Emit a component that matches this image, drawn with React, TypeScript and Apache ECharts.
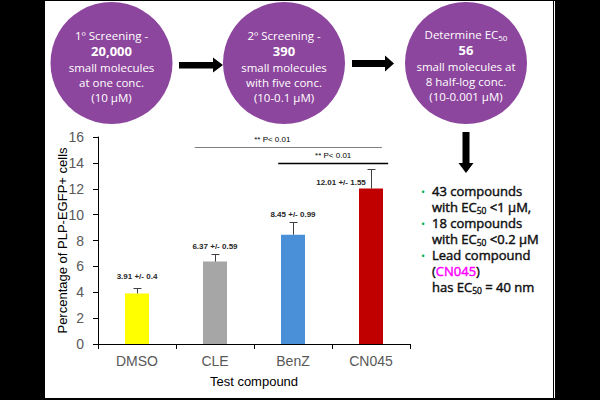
import React, { useEffect, useRef } from 'react';
import * as echarts from 'echarts';

// ---------- data ----------
const categories = ['DMSO', 'CLE', 'BenZ', 'CN045'];
const means = [3.91, 6.37, 8.45, 12.01];
const errors = [0.4, 0.59, 0.99, 1.55];
const barColors = ['#FFFF00', '#A6A6A6', '#4A90D9', '#C00000'];

const yMin = 0;
const yMax = 16;
const yInterval = 2;

const sigFrom = [1, 2];
const sigTo = [3, 3];
const sigLevel = [15.2, 14.0];
const sigLabels = ['** P< 0.01', '** P< 0.01'];

const yAxisTitle = 'Percentage of PLP-EGFP+ cells';
const xAxisTitle = 'Test compound';

const circle1Lines = ['1º Screening -', '{b|20,000}', 'small molecules', 'at one conc.', '(10 µM)'];
const circle2Lines = ['2º Screening -', '{b|390}', 'small molecules', 'with five conc.', '(10-0.1 µM)'];
const circle3Lines = ['Determine EC{s|50}', '{b|56}', 'small molecules at', '8 half-log conc.', '(10-0.001 µM)'];

const summaryLines = [
  { bullet: true, text: '43 compounds' },
  { bullet: false, text: 'with EC{s|50} <1 µM,' },
  { bullet: true, text: '18 compounds' },
  { bullet: false, text: 'with EC{s|50} <0.2 µM' },
  { bullet: true, text: 'Lead compound' },
  { bullet: false, text: '({m|CN045})' },
  { bullet: false, text: 'has EC{s|50} = 40 nm' },
];

// ---------- layout / style (not data) ----------
const labelOffsets = [[0, -12], [0, -7], [0, -7], [-30, 14]];
const sigLayout = [
  { start: -0.26, end: 0.14, textDx: -16, color: '#7F7F7F', width: 1 },
  { start: -0.19, end: 0.22, textDx: 0, color: '#000000', width: 1.3 },
];

const ARIAL = '"Liberation Sans", Arial, sans-serif';
const UI = '"Open Sans", "Noto Sans", sans-serif';
const PURPLE = '#8D469D';

function circleText(cx: number, cy: number, lines: string[]) {
  return {
    type: 'text',
    x: cx,
    y: cy,
    silent: true,
    style: {
      text: lines.join('\n'),
      align: 'center',
      verticalAlign: 'middle',
      fill: '#FFFFFF',
      fontFamily: UI,
      fontSize: 11.5,
      lineHeight: 15,
      rich: {
        b: { fontFamily: UI, fontSize: 13, fontWeight: 'bold', lineHeight: 17, fill: '#FFFFFF' },
        s: { fontFamily: UI, fontSize: 8, lineHeight: 15, verticalAlign: 'bottom', fill: '#FFFFFF' },
      },
    },
  };
}

export default function App() {
  const ref = useRef<HTMLDivElement>(null);

  useEffect(() => {
    if (!ref.current) return;
    const chart = echarts.init(ref.current, undefined, { renderer: 'svg' });

    const INK = '#111111';
    const summaryGraphics: any[] = [];
    summaryLines.forEach((ln, k) => {
      const y = 191 + k * 16;
      if (ln.bullet) {
        summaryGraphics.push({
          type: 'text', x: 423, y, silent: true,
          style: { text: '•', fill: '#00B050', fontFamily: UI, fontSize: 11, align: 'center', verticalAlign: 'middle' },
        });
      }
      summaryGraphics.push({
        type: 'text', x: 432, y, silent: true,
        style: {
          text: ln.text,
          align: 'left',
          verticalAlign: 'middle',
          fill: INK,
          stroke: INK,
          lineWidth: 0.45,
          fontFamily: UI,
          fontSize: 13,
          lineHeight: 15,
          rich: {
            s: { fontFamily: UI, fontSize: 8.5, lineHeight: 15, verticalAlign: 'bottom', fill: INK, stroke: INK, lineWidth: 0.35 },
            m: { fontFamily: UI, fontSize: 13, lineHeight: 15, fill: '#FF00FF', stroke: '#FF00FF', lineWidth: 0.45 },
          },
        },
      });
    });

    const option: any = {
      animation: false,
      backgroundColor: '#000000',
      grid: { left: 98, right: 190, top: 137, bottom: 56, containLabel: false, outerBoundsMode: 'none' },
      xAxis: {
        type: 'category',
        data: categories,
        name: xAxisTitle,
        nameLocation: 'middle',
        nameGap: 31,
        nameMoveOverlap: false,
        nameTextStyle: { color: '#000000', fontFamily: ARIAL, fontSize: 13 },
        axisLine: { show: true, lineStyle: { color: '#000000', width: 1 } },
        axisTick: { show: true, length: 5, interval: 0, lineStyle: { color: '#000000' } },
        axisLabel: { color: '#595959', fontFamily: ARIAL, fontSize: 14, margin: 10, interval: 0 },
        splitLine: { show: false },
      },
      yAxis: {
        type: 'value',
        min: yMin,
        max: yMax,
        interval: yInterval,
        name: yAxisTitle,
        nameLocation: 'middle',
        nameGap: 29,
        nameRotate: 90,
        nameMoveOverlap: false,
        nameTextStyle: { color: '#000000', fontFamily: ARIAL, fontSize: 13 },
        axisLine: { show: true, lineStyle: { color: '#000000', width: 1 } },
        axisTick: { show: true, length: 5, lineStyle: { color: '#000000' } },
        axisLabel: { color: '#595959', fontFamily: ARIAL, fontSize: 14, margin: 14 },
        splitLine: { show: false },
      },
      series: [
        {
          type: 'bar',
          data: means.map((v, i) => ({ value: v, itemStyle: { color: barColors[i] } })),
          barWidth: 24,
          silent: true,
          z: 2,
        },
        {
          type: 'custom',
          clip: false,
          silent: true,
          z: 3,
          data: means.map((v, i) => [i, v, errors[i], i]),
          renderItem: (params: any, api: any) => {
            const i = api.value(0);
            const v = api.value(1);
            const e = api.value(2);
            const k = api.value(3);
            const base = api.coord([i, v]);
            const top = api.coord([i, v + e]);
            const x = Math.round(base[0]) + 0.5;
            const yt = Math.round(top[1]) + 0.5;
            const off = labelOffsets[k] || [0, -8];
            return {
              type: 'group',
              children: [
                { type: 'line', shape: { x1: x, y1: base[1], x2: x, y2: yt }, style: { stroke: '#404040', lineWidth: 1 } },
                { type: 'line', shape: { x1: x - 4, y1: yt, x2: x + 4, y2: yt }, style: { stroke: '#404040', lineWidth: 1 } },
                {
                  type: 'text',
                  style: {
                    text: `${means[k]} +/- ${errors[k]}`,
                    x: top[0] + off[0],
                    y: top[1] + off[1],
                    align: 'center',
                    verticalAlign: 'middle',
                    fill: '#262626',
                    font: `bold 8px ${ARIAL}`,
                  },
                },
              ],
            };
          },
        },
        {
          type: 'custom',
          clip: false,
          silent: true,
          z: 3,
          data: sigLevel.map((lv, k) => [sigFrom[k], lv, sigTo[k], k]),
          renderItem: (params: any, api: any) => {
            const k = api.value(3);
            const lv = api.value(1);
            const p1 = api.coord([api.value(0), lv]);
            const p2 = api.coord([api.value(2), lv]);
            const band = api.size([1, 0])[0];
            const L = sigLayout[k];
            const x1 = p1[0] + L.start * band;
            const x2 = p2[0] + L.end * band;
            const y = Math.round(p1[1]) + 0.5;
            return {
              type: 'group',
              children: [
                { type: 'line', shape: { x1, y1: y, x2, y2: y }, style: { stroke: L.color, lineWidth: L.width } },
                {
                  type: 'text',
                  style: {
                    text: sigLabels[k],
                    x: (x1 + x2) / 2 + L.textDx,
                    y: y - 8,
                    align: 'center',
                    verticalAlign: 'middle',
                    fill: '#000000',
                    font: `8px ${ARIAL}`,
                  },
                },
              ],
            };
          },
        },
      ],
      graphic: [
        { type: 'rect', z: -10, silent: true, shape: { x: 45, y: 1, width: 508, height: 397 }, style: { fill: '#FFFFFF' } },
        { type: 'line', z: -10, silent: true, shape: { x1: 554.5, y1: 1, x2: 554.5, y2: 398 }, style: { stroke: '#FFFFFF', lineWidth: 1 } },
        { type: 'circle', silent: true, shape: { cx: 111.5, cy: 63, r: 61 }, style: { fill: PURPLE } },
        { type: 'circle', silent: true, shape: { cx: 284, cy: 63, r: 61 }, style: { fill: PURPLE } },
        { type: 'circle', silent: true, shape: { cx: 466, cy: 63, r: 61 }, style: { fill: PURPLE } },
        circleText(111.5, 66, circle1Lines),
        circleText(284, 66, circle2Lines),
        circleText(466, 65, circle3Lines),
        {
          type: 'polygon', silent: true,
          shape: { points: [[179, 62], [213, 62], [213, 57.5], [223, 65], [213, 72.5], [213, 68.5], [179, 68.5]] },
          style: { fill: '#000000' },
        },
        {
          type: 'polygon', silent: true,
          shape: { points: [[352, 60], [385, 60], [385, 55.5], [394, 63.5], [385, 71.5], [385, 67], [352, 67]] },
          style: { fill: '#000000' },
        },
        {
          type: 'polygon', silent: true,
          shape: { points: [[462.5, 132], [469.5, 132], [469.5, 163], [473.5, 163], [466, 173], [458.5, 163], [462.5, 163]] },
          style: { fill: '#000000' },
        },
        ...summaryGraphics,
      ],
    };

    chart.setOption(option);
    return () => {
      chart.dispose();
    };
  }, []);

  return (
    <div
      ref={ref}
      style={{ position: 'fixed', left: 0, top: 0, width: 600, height: 400, background: '#000' }}
    />
  );
}
